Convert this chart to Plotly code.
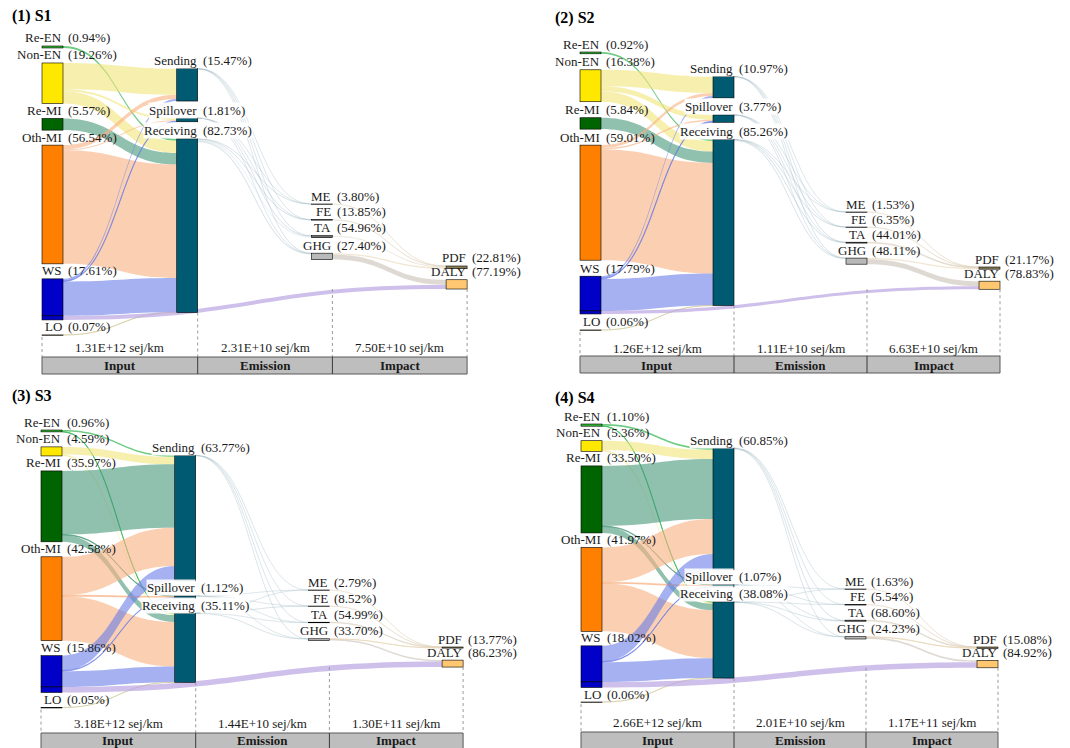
import plotly.graph_objects as go

FIG_W, FIG_H = 1070, 748
SERIF = "Liberation Serif, Times New Roman, serif"

# ---------------- data ----------------
scenarios = ["S1", "S2", "S3", "S4"]
input_names = ["Re-EN", "Non-EN", "Re-MI", "Oth-MI", "WS", "LO"]
mid_names = ["Sending", "Spillover", "Receiving"]
emis_names = ["ME", "FE", "TA", "GHG"]
imp_names = ["PDF", "DALY"]
stage_names = ["Input", "Emission", "Impact"]

# shares (%) of each stage
input_share = {
    "S1": [0.94, 19.26, 5.57, 56.54, 17.61, 0.07],
    "S2": [0.92, 16.38, 5.84, 59.01, 17.79, 0.06],
    "S3": [0.96, 4.59, 35.97, 42.58, 15.86, 0.05],
    "S4": [1.10, 5.36, 33.50, 41.97, 18.02, 0.06],
}
mid_share = {
    "S1": [15.47, 1.81, 82.73],
    "S2": [10.97, 3.77, 85.26],
    "S3": [63.77, 1.12, 35.11],
    "S4": [60.85, 1.07, 38.08],
}
emis_share = {
    "S1": [3.80, 13.85, 54.96, 27.40],
    "S2": [1.53, 6.35, 44.01, 48.11],
    "S3": [2.79, 8.52, 54.99, 33.70],
    "S4": [1.63, 5.54, 68.60, 24.23],
}
imp_share = {
    "S1": [22.81, 77.19],
    "S2": [21.17, 78.83],
    "S3": [13.77, 86.23],
    "S4": [15.08, 84.92],
}
# stage totals, sej/km: Input, Emission, Impact
stage_total = {
    "S1": [1.31e12, 2.31e10, 7.50e10],
    "S2": [1.26e12, 1.11e10, 6.63e10],
    "S3": [3.18e12, 1.44e10, 1.30e11],
    "S4": [2.66e12, 2.01e10, 1.17e11],
}
# input -> Sending / Spillover / Receiving (% of input)
to_mid = {
    "S1": [[0, 0, 0.94], [12.50, 1.00, 5.76], [0, 0, 5.57],
           [2.00, 0.50, 54.04], [0.97, 0.31, 16.33], [0, 0, 0.07]],
    "S2": [[0, 0, 0.92], [8.50, 2.50, 5.38], [0, 0, 5.84],
           [1.50, 0.80, 56.71], [0.97, 0.47, 16.35], [0, 0, 0.06]],
    "S3": [[0.76, 0, 0.20], [3.80, 0, 0.79], [32.17, 0.30, 3.50],
           [19.50, 0.50, 22.58], [7.54, 0.32, 8.00], [0, 0, 0.05]],
    "S4": [[0.90, 0, 0.20], [4.60, 0, 0.76], [30.00, 0.30, 3.20],
           [17.50, 0.45, 24.02], [7.85, 0.32, 9.85], [0, 0, 0.06]],
}
# fraction of PDF coming from ME, FE, TA, GHG
pdf_from = {
    "S1": [0.03, 0.12, 0.40, 0.45],
    "S2": [0.02, 0.08, 0.40, 0.50],
    "S3": [0.05, 0.15, 0.50, 0.30],
    "S4": [0.03, 0.10, 0.55, 0.32],
}
# fraction of DALY coming from GHG and directly from WS
daly_from = {
    "S1": [0.56, 0.44],
    "S2": [0.62, 0.38],
    "S3": [0.20, 0.80],
    "S4": [0.25, 0.75],
}

# ---------------- panel geometry (pixels) ----------------
panel_cfg = {
    "S1": dict(title="(1) S1", tx=10, ty=16, x0=42, step=134.7, top=46, k=2.10,
               gap=15, mid_gap=17, em_top=204, em_gap=15.5, imp_top=266, imp_gap=11,
               val_y=347, head=(357, 374)),
    "S2": dict(title="(2) S2", tx=553, ty=18, x0=580, step=133.0, top=52, k=1.95,
               gap=16, mid_gap=17, em_top=212, em_gap=15, imp_top=267, imp_gap=12,
               val_y=348, head=(356, 373)),
    "S3": dict(title="(3) S3", tx=10, ty=396, x0=41, step=133.7, top=430, k=1.97,
               gap=15, mid_gap=15, em_top=590, em_gap=16, imp_top=647, imp_gap=12,
               val_y=723, head=(733, 751)),
    "S4": dict(title="(4) S4", tx=553, ty=398, x0=581, step=132.0, top=424, k=2.00,
               gap=14.5, mid_gap=15, em_top=589, em_gap=15.5, imp_top=647, imp_gap=12,
               val_y=722, head=(732, 751)),
}
THICK = 21

# ---------------- styles ----------------
in_node_colors = ["#33B833", "#FFE800", "#006400", "#FF8000", "#0000C8", "#A89A6A"]
in_line_colors = ["#2A9A2A", "#3A3A2A", "#003A00", "#6A3A00", "#00006A", "#555555"]
in_link_colors = ["rgba(60,185,90,0.75)", "rgba(242,228,120,0.6)", "rgba(70,150,120,0.6)",
                  "rgba(248,178,130,0.62)", "rgba(105,125,230,0.6)", "rgba(205,195,145,0.5)"]
MID_NODE = "#005A72"
MID_LINK = "rgba(140,175,185,0.16)"
em_node_colors = ["#C8C8C8", "#A8A8A8", "#6E6E6E", "#B9B9B9"]
em_line_colors = ["#888888", "#666666", "#444444", "#666666"]
em_pdf_links = ["rgba(225,212,185,0.35)", "rgba(222,210,185,0.35)",
                "rgba(215,205,185,0.45)", "rgba(232,214,180,0.6)"]
GHG_DALY_LINK = "rgba(212,204,196,0.75)"
WS_DALY_LINK = "rgba(185,165,225,0.7)"
imp_node_colors = ["#8A7D55", "#FFC870"]
imp_line_colors = ["#5A5030", "#6A5020"]

TXT = "#1a1a1a"


def px(x):
    return x / FIG_W


def py(y):
    return 1 - y / FIG_H


fig = go.Figure()
annotations = []
shapes = []

for s in scenarios:
    cfg = panel_cfg[s]
    k = cfg["k"]
    tot = stage_total[s]
    em_total = tot[1] / tot[0] * 100
    imp_total = tot[2] / tot[0] * 100
    pdf_v = imp_share[s][0] / 100 * imp_total
    daly_v = imp_share[s][1] / 100 * imp_total

    # node indices: inputs 0-5, WS direct 6, middle 7-9, emission 10-13, impact 14-15
    n_nodes = 16
    node_colors = in_node_colors + [in_node_colors[4]] + [MID_NODE] * 3 + em_node_colors + imp_node_colors
    line_colors = in_line_colors + [in_line_colors[4]] + ["#003040"] * 3 + em_line_colors + imp_line_colors

    links = []
    for i in range(6):
        for j in range(3):
            v = to_mid[s][i][j]
            if v > 0:
                links.append((i, 7 + j, v, in_link_colors[i]))
    for j in range(3):
        for e in range(4):
            v = mid_share[s][j] / 100 * emis_share[s][e] / 100 * em_total
            links.append((7 + j, 10 + e, v, MID_LINK))
    for e in range(4):
        links.append((10 + e, 14, pdf_from[s][e] * pdf_v, em_pdf_links[e]))
    links.append((13, 15, daly_from[s][0] * daly_v, GHG_DALY_LINK))
    links.append((6, 15, daly_from[s][1] * daly_v, WS_DALY_LINK))

    v_in = [0.0] * n_nodes
    v_out = [0.0] * n_nodes
    for a, b, v, _ in links:
        v_out[a] += v
        v_in[b] += v
    node_val = [max(v_in[n], v_out[n]) for n in range(n_nodes)]
    h = [v * k for v in node_val]

    # vertical placement
    top_px = {}
    col0 = [0, 1, 2, 3, 4, 6, 5]
    y = cfg["top"]
    for n in col0:
        if n != 0 and n != 6:
            y += cfg["gap"]
        top_px[n] = y
        y += h[n]
    col0_bottom = y
    center0 = (cfg["top"] + col0_bottom) / 2
    mid_span = sum(h[n] for n in (7, 8, 9)) + 2 * cfg["mid_gap"]
    y = center0 - mid_span / 2
    for n in (7, 8, 9):
        top_px[n] = y
        y += h[n] + cfg["mid_gap"]
    y = cfg["em_top"]
    for n in (10, 11, 12, 13):
        top_px[n] = y
        y += h[n] + cfg["em_gap"]
    y = cfg["imp_top"]
    for n in (14, 15):
        top_px[n] = y
        y += h[n] + cfg["imp_gap"]

    col_of = {n: 0 for n in col0}
    col_of.update({7: 1, 8: 1, 9: 1, 10: 2, 11: 2, 12: 2, 13: 2, 14: 3, 15: 3})
    left_px = {n: cfg["x0"] + col_of[n] * cfg["step"] for n in range(n_nodes)}

    # sankey domain in pixels
    dx0 = cfg["x0"] - 15
    dx1 = cfg["x0"] + 3 * cfg["step"] + THICK + 15
    dy0 = cfg["top"] - 15
    dy1 = cfg["top"] + 300
    dom_h = dy1 - dy0
    pad = (dom_h - k * sum(node_val[n] for n in col0)) / (len(col0) - 1)

    node_x = [(left_px[n] + THICK / 2 - dx0) / (dx1 - dx0) for n in range(n_nodes)]
    node_y = [(top_px[n] + h[n] / 2 - dy0) / dom_h for n in range(n_nodes)]

    fig.add_trace(go.Sankey(
        domain=dict(x=[px(dx0), px(dx1)], y=[py(dy1), py(dy0)]),
        arrangement="fixed",
        node=dict(
            label=[""] * n_nodes,
            color=node_colors,
            line=dict(color=line_colors, width=0.6),
            thickness=THICK,
            pad=pad,
            x=node_x,
            y=node_y,
            hoverinfo="none",
        ),
        link=dict(
            source=[l[0] for l in links],
            target=[l[1] for l in links],
            value=[l[2] for l in links],
            color=[l[3] for l in links],
            hoverinfo="none",
        ),
    ))

    # node labels: name right-aligned on node edge, share to its right
    groups = [
        (list(range(6)), input_names, input_share[s], False),
        ([7, 8, 9], mid_names, mid_share[s], True),
        ([10, 11, 12, 13], emis_names, emis_share[s], False),
        ([14, 15], imp_names, imp_share[s], False),
    ]
    for ids, names, shares, boxed in groups:
        for n, name, share in zip(ids, names, shares):
            xr = left_px[n] + THICK
            yt = top_px[n]
            bg = "rgba(255,255,255,0.9)" if boxed else "rgba(0,0,0,0)"
            annotations.append(dict(
                x=px(xr), y=py(yt + 0.5), xref="paper", yref="paper",
                text=name, showarrow=False, xanchor="right", yanchor="bottom",
                font=dict(family=SERIF, size=13, color=TXT), bgcolor=bg, borderpad=0))
            annotations.append(dict(
                x=px(xr + 4), y=py(yt + 0.5), xref="paper", yref="paper",
                text=f"({share:.2f}%)", showarrow=False, xanchor="left", yanchor="bottom",
                font=dict(family=SERIF, size=13, color=TXT), bgcolor=bg, borderpad=0))

    # panel title
    annotations.append(dict(
        x=px(cfg["tx"]), y=py(cfg["ty"]), xref="paper", yref="paper",
        text=f"<b>{cfg['title']}</b>", showarrow=False, xanchor="left", yanchor="middle",
        font=dict(family=SERIF, size=16, color="#000")))

    # stage table beneath the diagram
    xl = cfg["x0"]
    x_mid_r = cfg["x0"] + cfg["step"] + THICK
    x_em_r = cfg["x0"] + 2 * cfg["step"] + THICK
    x_imp_r = cfg["x0"] + 3 * cfg["step"] + THICK
    h0, h1 = cfg["head"]
    daly_bottom = top_px[15] + h[15]
    rec_bottom = top_px[9] + h[9]
    lo_bottom = top_px[5] + h[5] + 2
    for xv, ys in ((xl, lo_bottom), (x_mid_r, rec_bottom), (x_em_r, daly_bottom), (x_imp_r, daly_bottom)):
        shapes.append(dict(type="line", xref="paper", yref="paper",
                           x0=px(xv), x1=px(xv), y0=py(ys), y1=py(h0),
                           line=dict(color="#9a9a9a", width=1, dash="dot")))
    shapes.append(dict(type="rect", xref="paper", yref="paper",
                       x0=px(xl), x1=px(x_imp_r), y0=py(h1), y1=py(h0),
                       fillcolor="#BEBEBE", line=dict(color="#5a5a5a", width=1)))
    for xv in (x_mid_r, x_em_r):
        shapes.append(dict(type="line", xref="paper", yref="paper",
                           x0=px(xv), x1=px(xv), y0=py(h1), y1=py(h0),
                           line=dict(color="#3a3a3a", width=1)))
    cells = [(xl, x_mid_r), (x_mid_r, x_em_r), (x_em_r, x_imp_r)]
    for (a, b), stage, val in zip(cells, stage_names, tot):
        annotations.append(dict(
            x=px((a + b) / 2), y=py(cfg["val_y"]), xref="paper", yref="paper",
            text=f"{val:.2E} sej/km", showarrow=False, xanchor="center", yanchor="middle",
            font=dict(family=SERIF, size=13, color=TXT)))
        annotations.append(dict(
            x=px((a + b) / 2), y=py((h0 + min(h1, FIG_H - 1)) / 2 + 0.5), xref="paper", yref="paper",
            text=f"<b>{stage}</b>", showarrow=False, xanchor="center", yanchor="middle",
            font=dict(family=SERIF, size=13, color=TXT)))

fig.update_layout(
    width=FIG_W, height=FIG_H,
    margin=dict(l=0, r=0, t=0, b=0),
    paper_bgcolor="white", plot_bgcolor="white",
    showlegend=False,
    annotations=annotations,
    shapes=shapes,
    font=dict(family=SERIF),
)

fig.write_html("out.html")
